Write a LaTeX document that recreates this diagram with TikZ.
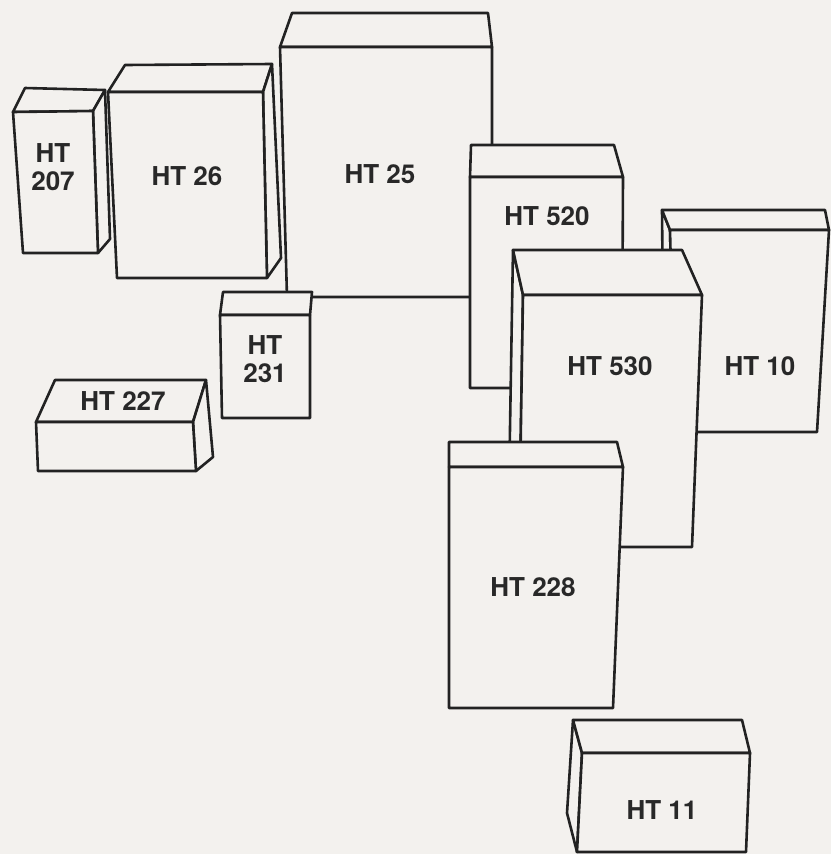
\documentclass[tikz,border=0pt]{standalone}
\usepackage{fontspec}
\setmainfont{TeX Gyre Heros}
\definecolor{bgc}{HTML}{F3F1EE}
\definecolor{linec}{HTML}{222222}
\definecolor{txtc}{HTML}{282828}
\begin{document}
\begin{tikzpicture}[x=1pt,y=-1pt,
  face/.style={draw=linec, fill=bgc, line width=2.6pt, line join=round},
  lbl/.style={font=\fontsize{26}{28}\selectfont\bfseries, text=txtc, align=center, inner sep=0pt}]
\fill[bgc] (0,0) rectangle (831,854);
\useasboundingbox (0,0) rectangle (831,854);
% HT 25
\filldraw[face] (292,13) -- (488,13) -- (492,47) -- (280,47) -- cycle;
\filldraw[face] (280,47) -- (492,47) -- (492,297) -- (287,297) -- cycle;
\node[lbl] (t25) at (380,174) {HT 25};
% HT 26
\filldraw[face] (125,65) -- (272,64) -- (263,92) -- (108,92) -- cycle;
\filldraw[face] (263,92) -- (272,64) -- (281,258) -- (267,278) -- cycle;
\filldraw[face] (108,92) -- (263,92) -- (267,278) -- (117,278) -- cycle;
\node[lbl] (t26) at (187,176) {HT 26};
% HT 207
\filldraw[face] (25,88) -- (105,90) -- (93,111) -- (13,112) -- cycle;
\filldraw[face] (93,111) -- (105,90) -- (110,239) -- (98,253) -- cycle;
\filldraw[face] (13,112) -- (93,111) -- (98,253) -- (23,253) -- cycle;
\node[lbl] (t207) at (53,167) {HT\\207};
% HT 231
\filldraw[face] (223,292) -- (312,292) -- (310,315) -- (220,315) -- cycle;
\filldraw[face] (220,315) -- (310,315) -- (310,418) -- (222,418) -- cycle;
\node[lbl] (t231) at (265,359) {HT\\231};
% HT 227
\filldraw[face] (55,380) -- (206,380) -- (193,422) -- (36,422) -- cycle;
\filldraw[face] (193,422) -- (206,380) -- (213,457) -- (196,471) -- cycle;
\filldraw[face] (36,422) -- (193,422) -- (196,471) -- (38,471) -- cycle;
\node[lbl] (t227) at (123,401) {HT 227};
% HT 520
\filldraw[face] (471,145) -- (614,145) -- (623,177) -- (470,177) -- cycle;
\filldraw[face] (470,177) -- (623,177) -- (622,388) -- (470,388) -- cycle;
\node[lbl] (t520) at (547,216) {HT 520};
% HT 10
\filldraw[face] (662,210) -- (670,230) -- (675,432) -- (664,420) -- cycle;
\filldraw[face] (662,210) -- (825,210) -- (829,230) -- (670,230) -- cycle;
\filldraw[face] (670,230) -- (829,230) -- (817,432) -- (675,432) -- cycle;
\node[lbl] (t10) at (760,366) {HT 10};
% HT 530
\filldraw[face] (513,250) -- (523,295) -- (519,547) -- (508,547) -- cycle;
\filldraw[face] (513,250) -- (682,250) -- (702,295) -- (523,295) -- cycle;
\filldraw[face] (523,295) -- (702,295) -- (692,547) -- (519,547) -- cycle;
\node[lbl] (t530) at (610,366) {HT 530};
% HT 228
\filldraw[face] (449,442) -- (617,442) -- (623,467) -- (449,467) -- cycle;
\filldraw[face] (449,467) -- (623,467) -- (613,708) -- (449,708) -- cycle;
\node[lbl] (t228) at (533,587) {HT 228};
% HT 11
\filldraw[face] (573,720) -- (582,753) -- (577,852) -- (567,813) -- cycle;
\filldraw[face] (573,720) -- (742,720) -- (750,753) -- (582,753) -- cycle;
\filldraw[face] (582,753) -- (750,753) -- (746,852) -- (577,852) -- cycle;
\node[lbl] (t11) at (662,810) {HT 11};
\end{tikzpicture}
\end{document}
